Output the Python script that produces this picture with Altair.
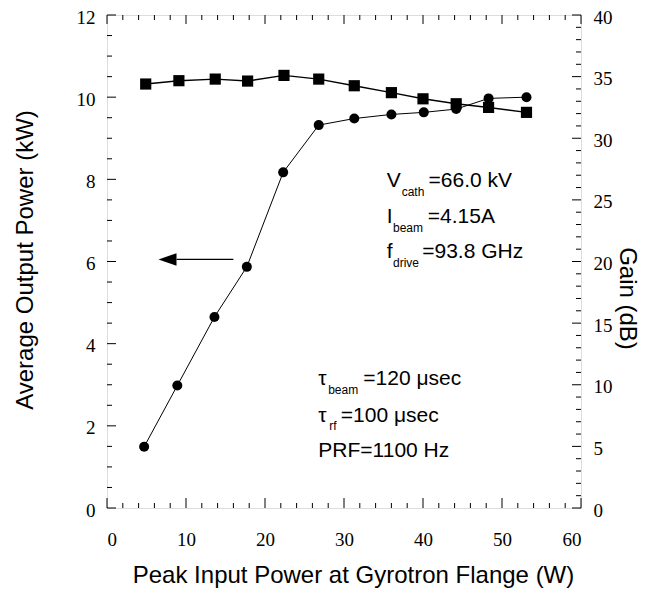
import altair as alt
import pandas as pd

# ---- data ----
x_input = [4.7, 8.9, 13.6, 17.7, 22.3, 26.8, 31.3, 36.0, 40.1, 44.2, 48.3, 53.1]
power_kw = [1.49, 2.98, 4.65, 5.87, 8.17, 9.32, 9.48, 9.58, 9.63, 9.71, 9.97, 10.0]
gain_x = [4.9, 9.1, 13.7, 17.8, 22.4, 26.8, 31.3, 36.0, 40.0, 44.2, 48.3, 53.1]
gain_db = [34.4, 34.67, 34.8, 34.64, 35.1, 34.8, 34.26, 33.7, 33.2, 32.8, 32.5, 32.1]

x_ticks = [0, 10, 20, 30, 40, 50, 60]
left_ticks = [0, 2, 4, 6, 8, 10, 12]
right_ticks = [0, 5, 10, 15, 20, 25, 30, 35, 40]

x_title = "Peak Input Power at Gyrotron Flange (W)"
left_title = "Average Output Power (kW)"
right_title = "Gain (dB)"

ann_text = ["V", "cath", "=66.0 kV", "I", "beam", "=4.15A", "f", "drive", "=93.8 GHz",
            "τ", "beam", "=120 μsec", "τ", "rf", "=100 μsec", "PRF=1100 Hz"]
ann_x = [35.4, 37.3, 40.7, 35.4, 36.2, 40.6, 35.4, 36.2, 39.9,
         26.75, 28.0, 32.45, 26.75, 28.14, 29.6, 26.75]
ann_y = [7.82, 7.60, 7.82, 6.93, 6.72, 6.93, 6.08, 5.86, 6.08,
         2.99, 2.78, 2.99, 2.10, 1.90, 2.10, 1.25]
ann_size = [21, 12, 21, 21, 12, 21, 21, 12, 21, 21, 12, 21, 21, 12, 21, 21]

arrow_x = [8.8, 16.0]
arrow_y = [6.05, 6.05]
head_x = [7.66]
head_y = [6.05]

W, H = 474, 493

power_df = pd.DataFrame({"x": x_input, "y": power_kw})
gain_df = pd.DataFrame({"x": gain_x, "y": gain_db})
ann_df = pd.DataFrame({"x": ann_x, "y": ann_y, "t": ann_text, "s": ann_size})
arrow_df = pd.DataFrame({"x": arrow_x, "y": arrow_y})
head_df = pd.DataFrame({"x": head_x, "y": head_y})

def minor(step, lo, hi, majors):
    out = []
    v = lo
    while v <= hi + 1e-9:
        if all(abs(v - m) > 1e-9 for m in majors):
            out.append(round(v, 3))
        v += step
    return out

xmaj_df = pd.DataFrame({"v": x_ticks})
xmin_df = pd.DataFrame({"v": minor(2, 0, 60, x_ticks)})
lmaj_df = pd.DataFrame({"v": left_ticks})
lmin_df = pd.DataFrame({"v": minor(0.5, 0, 12, left_ticks)})
rmaj_df = pd.DataFrame({"v": right_ticks})
rmin_df = pd.DataFrame({"v": minor(1, 0, 40, right_ticks)})

sx = alt.Scale(domain=[0, 60], nice=False, zero=False)
sl = alt.Scale(domain=[0, 12], nice=False, zero=False)
sr = alt.Scale(domain=[0, 40], nice=False, zero=False)

label_font = "Liberation Serif"
title_font = "Liberation Sans"

x_axis = alt.Axis(values=x_ticks, title=x_title,
                  ticks=False, domain=False, grid=False, tickSize=0,
                  labelFont=label_font, labelFontSize=19, labelColor="black",
                  labelPadding=37, labelBaseline="alphabetic",
                  titleFont=title_font, titleFontSize=24, titleFontWeight="normal",
                  titleColor="black", titleX=246, titleY=74, titleAlign="center",
                  titleBaseline="alphabetic", titleLimit=700)
l_axis = alt.Axis(values=left_ticks, title="",
                  ticks=False, domain=False, grid=False, tickSize=0,
                  labelFont=label_font, labelFontSize=19, labelColor="black",
                  labelPadding=12, labelOffset=2)
r_axis = alt.Axis(values=right_ticks, title=right_title, orient="right",
                  ticks=False, domain=False, grid=False, tickSize=0,
                  labelFont=label_font, labelFontSize=19, labelColor="black",
                  labelPadding=12, labelOffset=2,
                  titleFont=title_font, titleFontSize=24, titleFontWeight="normal",
                  titleColor="black", titleX=45, titleY=283, titleAngle=90,
                  titleAlign="center", titleBaseline="middle", titleLimit=700)

X = lambda: alt.X("x:Q", scale=sx, axis=x_axis)
YL = lambda: alt.Y("y:Q", scale=sl, axis=l_axis)
YR = lambda: alt.Y("y:Q", scale=sr, axis=r_axis)

power_line = alt.Chart(power_df).mark_line(color="black", strokeWidth=1).encode(
    x=X(), y=YL())
power_pts = alt.Chart(power_df).mark_point(shape="circle", filled=True, color="black",
                                           size=100, opacity=1).encode(x=X(), y=YL())
ann = alt.Chart(ann_df).mark_text(align="left", baseline="alphabetic", font=title_font,
                                  color="black").encode(
    x=X(), y=YL(), text="t:N", size=alt.Size("s:Q", scale=None, legend=None))
arrow_line = alt.Chart(arrow_df).mark_line(color="black", strokeWidth=1.3).encode(
    x=X(), y=YL())
arrow_head = alt.Chart(head_df).mark_point(shape="M -1 0 L 1 -0.7 L 1 0.7 Z", filled=True,
                                           color="black", size=324, opacity=1).encode(
    x=X(), y=YL())
ltitle = alt.Chart(pd.DataFrame({"t": [left_title]})).mark_text(
    angle=270, font=title_font, fontSize=24, align="center", baseline="middle",
    color="black").encode(text="t:N", x=alt.value(-81), y=alt.value(245))

def vrule(df, x0, x1, scale, axis):
    return alt.Chart(df).mark_rule(color="black", strokeWidth=1).encode(
        y=alt.Y("v:Q", scale=scale, axis=axis), x=alt.value(x0), x2=alt.value(x1))

def hrule(df, y0, y1):
    return alt.Chart(df).mark_rule(color="black", strokeWidth=1).encode(
        x=alt.X("v:Q", scale=sx, axis=x_axis), y=alt.value(y0), y2=alt.value(y1))

left_group = alt.layer(
    power_line, power_pts, ann, arrow_line, arrow_head,
    vrule(lmaj_df, 0, 9, sl, l_axis), vrule(lmin_df, 0, 5, sl, l_axis),
    hrule(xmaj_df, H, H - 10), hrule(xmin_df, H, H - 5),
    hrule(xmaj_df, 0, 9), hrule(xmin_df, 0, 5),
)

gain_line = alt.Chart(gain_df).mark_line(color="black", strokeWidth=1.4).encode(
    x=X(), y=YR())
gain_pts = alt.Chart(gain_df).mark_point(shape="square", filled=True, color="black",
                                         size=125, opacity=1).encode(x=X(), y=YR())
right_group = alt.layer(
    gain_line, gain_pts,
    vrule(rmaj_df, W, W - 9, sr, r_axis), vrule(rmin_df, W, W - 5, sr, r_axis),
)

chart = alt.layer(left_group, right_group, ltitle).resolve_scale(y="independent").properties(
    width=W, height=H,
    autosize=alt.AutoSizeParams(type="none"),
    padding={"left": 99, "top": 7, "right": 59, "bottom": 80},
).configure_view(stroke="black", strokeWidth=1.5).configure(background="white")

chart.save("out.html", embed_options={"renderer": "svg", "actions": False})
